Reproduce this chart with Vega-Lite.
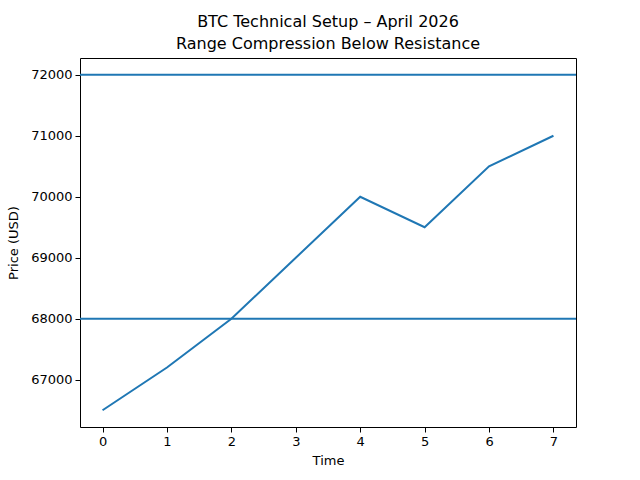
{
  "$schema": "https://vega.github.io/schema/vega-lite/v6.json",
  "width": 496,
  "height": 369,
  "autosize": {"type": "none"},
  "padding": {"left": 80, "top": 58, "right": 64, "bottom": 53},
  "title": {
    "text": ["BTC Technical Setup – April 2026", "Range Compression Below Resistance"],
    "font": "DejaVu Sans",
    "fontSize": 16,
    "fontWeight": "normal",
    "color": "black",
    "anchor": "middle",
    "offset": 6,
    "lineHeight": 22
  },
  "config": {
    "view": {"stroke": "black", "strokeWidth": 1},
    "axis": {
      "grid": false,
      "domain": false,
      "ticks": true,
      "tickColor": "black",
      "tickSize": 5,
      "labelPadding": 3,
      "labelColor": "black",
      "labelFont": "DejaVu Sans",
      "labelFontSize": 13,
      "titleFont": "DejaVu Sans",
      "titleFontSize": 13,
      "titleFontWeight": "normal",
      "titleColor": "black"
    }
  },
  "layer": [
    {
      "data": {
        "values": [
          {"t": 0, "price": 66500},
          {"t": 1, "price": 67200},
          {"t": 2, "price": 68000},
          {"t": 3, "price": 69000},
          {"t": 4, "price": 70000},
          {"t": 5, "price": 69500},
          {"t": 6, "price": 70500},
          {"t": 7, "price": 71000}
        ]
      },
      "mark": {"type": "line", "color": "#1f77b4", "strokeWidth": 2},
      "encoding": {
        "x": {
          "field": "t",
          "type": "quantitative",
          "title": "Time",
          "scale": {"domain": [-0.35, 7.35], "nice": false, "zero": false},
          "axis": {"values": [0, 1, 2, 3, 4, 5, 6, 7], "titlePadding": 6}
        },
        "y": {
          "field": "price",
          "type": "quantitative",
          "title": "Price (USD)",
          "scale": {"domain": [66225, 72275], "nice": false, "zero": false},
          "axis": {"values": [67000, 68000, 69000, 70000, 71000, 72000], "format": "d", "titlePadding": 10}
        }
      }
    },
    {
      "data": {"values": [{"level": 72000}, {"level": 68000}]},
      "mark": {"type": "rule", "color": "#1f77b4", "strokeWidth": 2},
      "encoding": {
        "y": {"field": "level", "type": "quantitative"}
      }
    }
  ]
}
